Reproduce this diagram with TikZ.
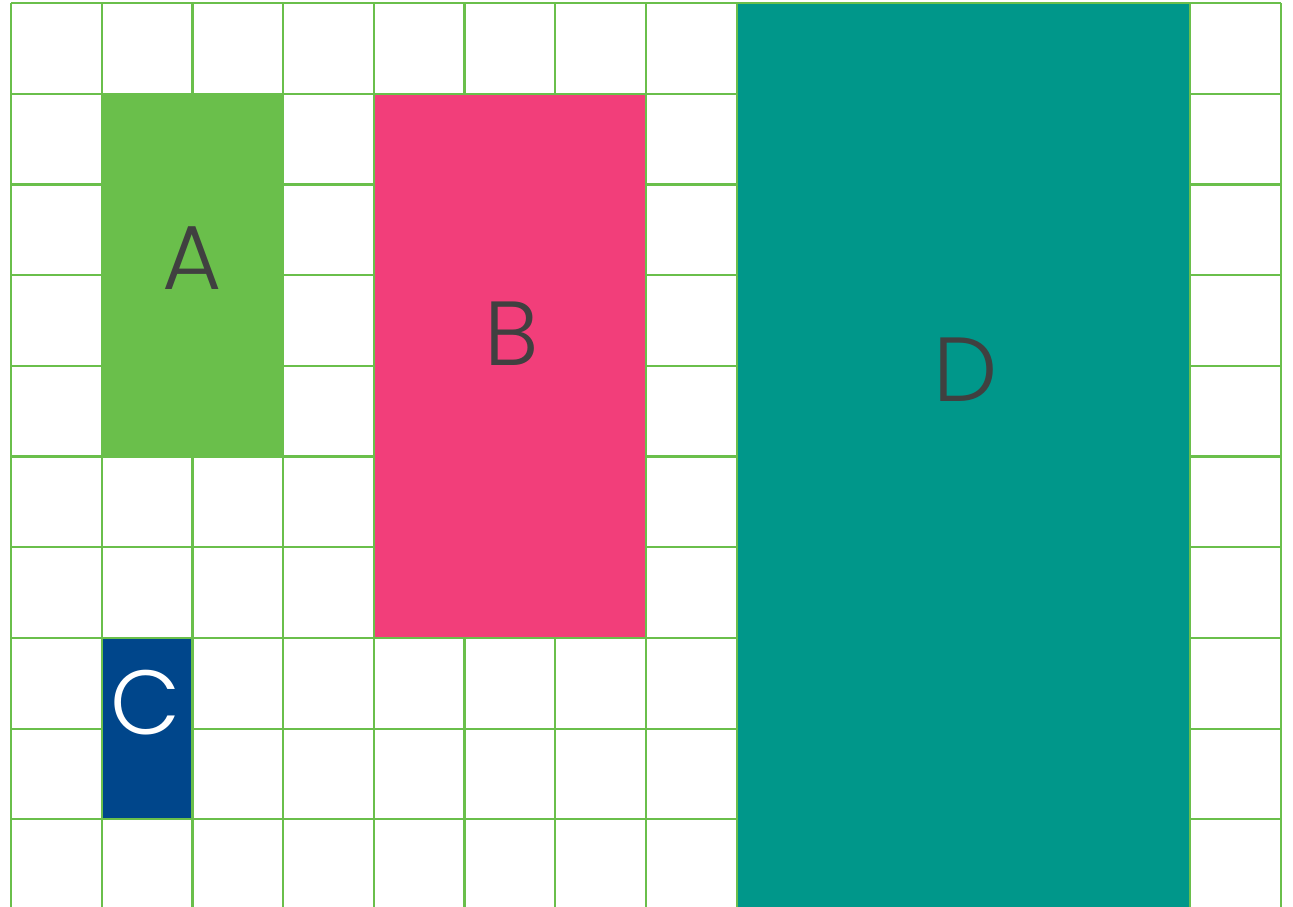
\documentclass[tikz,border=0pt]{standalone}
\usepackage{fontspec}
\setmainfont{Poppins}[UprightFont=* Light]
\definecolor{gridgreen}{HTML}{6ABF4B}
\definecolor{apink}{HTML}{F23E7A}
\definecolor{anavy}{HTML}{00468B}
\definecolor{ateal}{HTML}{00978A}
\definecolor{txt}{HTML}{404040}
\tikzset{
  gridline/.style={draw=gridgreen, line width=2.2pt},
  block/.style={draw=gridgreen, line width=2.2pt, fill=#1},
  letter/.style={inner sep=0pt, font=\fontsize{91}{91}\selectfont, text=txt},
}
\begin{document}
\begin{tikzpicture}[x=1pt,y=-1pt]
\useasboundingbox (0,0) rectangle (1293,906);
\fill[white] (0,0) rectangle (1293,906);
% grid
\foreach \i in {0,...,14} {
  \draw[gridline] ({11+90.7*\i},3) -- ({11+90.7*\i},912);
}
\foreach \j in {0,...,10} {
  \draw[gridline] (11,{3+90.7*\j}) -- (1280.8,{3+90.7*\j});
}
% blocks
\filldraw[block=gridgreen] (101.7,93.7) rectangle (283.1,456.5);
\filldraw[block=apink] (373.8,93.7) rectangle (645.9,637.9);
\filldraw[block=anavy] (101.7,637.9) rectangle (192.4,819.3);
\filldraw[block=ateal] (736.6,3) rectangle (1190.1,912);
% labels
\node[letter] (la) at (192,258) {A};
\node[letter] (lb) at (512,334) {B};
\node[letter, text=white] (lc) at (146,703) {C};
\node[letter] (ld) at (966,370) {D};
\end{tikzpicture}
\end{document}
